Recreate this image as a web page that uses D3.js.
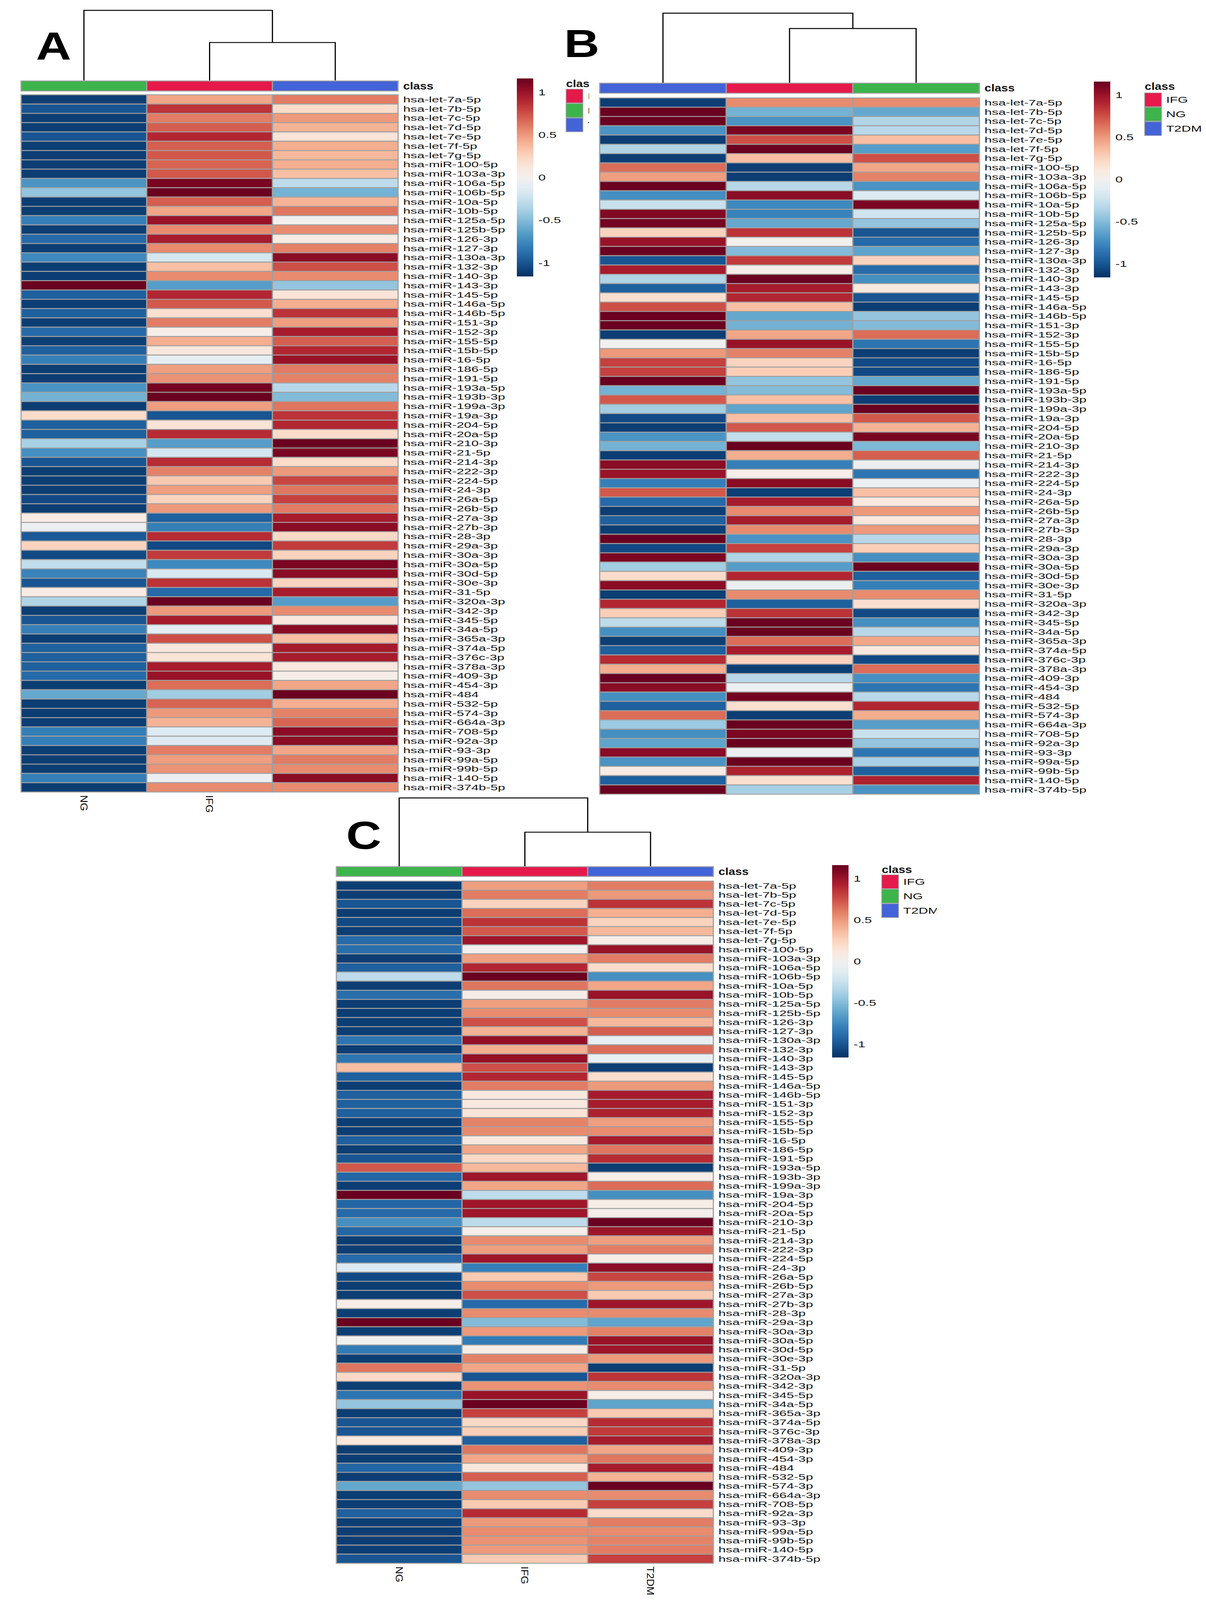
<!DOCTYPE html>
<html>
<head>
<meta charset="utf-8">
<script src="https://cdn.jsdelivr.net/npm/d3@7"></script>
<style>
  html, body { margin: 0; padding: 0; width: 100%; height: 100%; overflow: hidden; background: #fff; }
  #fig { display: block; width: 100vw; height: 100vh; }
  text { font-family: "Liberation Sans", Arial, sans-serif; fill: #111; }
</style>
</head>
<body>
<svg id="fig" viewBox="0 0 3087 5099" preserveAspectRatio="none"></svg>
<script>
// row labels (same order in all three heatmaps)
const rows = ['hsa-let-7a-5p','hsa-let-7b-5p','hsa-let-7c-5p','hsa-let-7d-5p','hsa-let-7e-5p','hsa-let-7f-5p','hsa-let-7g-5p',
  'hsa-miR-100-5p','hsa-miR-103a-3p','hsa-miR-106a-5p','hsa-miR-106b-5p','hsa-miR-10a-5p','hsa-miR-10b-5p','hsa-miR-125a-5p',
  'hsa-miR-125b-5p','hsa-miR-126-3p','hsa-miR-127-3p','hsa-miR-130a-3p','hsa-miR-132-3p','hsa-miR-140-3p','hsa-miR-143-3p',
  'hsa-miR-145-5p','hsa-miR-146a-5p','hsa-miR-146b-5p','hsa-miR-151-3p','hsa-miR-152-3p','hsa-miR-155-5p','hsa-miR-15b-5p',
  'hsa-miR-16-5p','hsa-miR-186-5p','hsa-miR-191-5p','hsa-miR-193a-5p','hsa-miR-193b-3p','hsa-miR-199a-3p','hsa-miR-19a-3p',
  'hsa-miR-204-5p','hsa-miR-20a-5p','hsa-miR-210-3p','hsa-miR-21-5p','hsa-miR-214-3p','hsa-miR-222-3p','hsa-miR-224-5p',
  'hsa-miR-24-3p','hsa-miR-26a-5p','hsa-miR-26b-5p','hsa-miR-27a-3p','hsa-miR-27b-3p','hsa-miR-28-3p','hsa-miR-29a-3p',
  'hsa-miR-30a-3p','hsa-miR-30a-5p','hsa-miR-30d-5p','hsa-miR-30e-3p','hsa-miR-31-5p','hsa-miR-320a-3p','hsa-miR-342-3p',
  'hsa-miR-345-5p','hsa-miR-34a-5p','hsa-miR-365a-3p','hsa-miR-374a-5p','hsa-miR-376c-3p','hsa-miR-378a-3p','hsa-miR-409-3p',
  'hsa-miR-454-3p','hsa-miR-484','hsa-miR-532-5p','hsa-miR-574-3p','hsa-miR-664a-3p','hsa-miR-708-5p','hsa-miR-92a-3p',
  'hsa-miR-93-3p','hsa-miR-99a-5p','hsa-miR-99b-5p','hsa-miR-140-5p','hsa-miR-374b-5p'];

// panel A
const colsA = ['NG', 'IFG', 'T2DM'];
const aNG = [-1.1,-1.0,-1.1,-1.1,-1.0,-1.1,-1.1,-1.1,-1.1,-0.7, -0.45,-1.1,-1.1,-0.8,-1.1,-0.9,-1.1,-0.75,-1.1,-1.1,
  1.15,-0.95,-1.1,-0.95,-1.1,-0.9,-1.1,-0.95,-0.8,-1.1, -1.1,-0.7,-0.55,-1.1,0.2,-0.95,-0.95,-0.38,-0.72,-1.0,
  -1.1,-1.1,-1.1,-1.05,-1.1,0.08,-0.05,-0.98,0.25,-1.05, -0.28,-0.78,-1.0,0.08,-0.35,-1.1,-1.0,-0.8,-1.1,-0.95,
  -0.95,-0.95,-0.9,-1.1,-0.6,-1.1,-1.1,-1.1,-0.8,-0.8, -1.1,-1.1,-1.1,-0.8,-1.1];
const aIFG = [0.45,0.85,0.6,0.7,0.9,0.7,0.72,0.68,0.72,1.1, 1.15,0.7,0.45,1.0,0.55,0.95,0.55,-0.2,0.35,0.55,
  -0.65,0.9,0.72,0.18,0.6,0.05,0.42,0.12,-0.1,0.48, 0.52,1.12,1.15,0.48,-1.0,0.15,0.88,-0.65,-0.2,0.88,
  0.58,0.3,0.48,0.25,0.5,-0.95,-0.8,0.88,-1.05,0.82, -0.75,-0.18,0.85,-0.9,1.15,0.5,0.95,-0.1,0.75,0.12,
  0.15,0.95,1.0,0.65,-0.4,0.68,0.5,0.4,-0.15,-0.15, 0.6,0.48,0.52,-0.05,0.55];
const aT2DM = [0.6,0.2,0.5,0.4,0.15,0.42,0.38,0.42,0.35,-0.3, -0.55,0.4,0.62,0.0,0.55,0.08,0.58,1.05,0.75,0.55,
  -0.45,0.15,0.42,0.85,0.48,0.95,0.7,0.9,1.0,0.6, 0.58,-0.32,-0.5,0.62,0.85,0.9,0.2,1.15,1.1,0.2,
  0.5,0.78,0.62,0.8,0.6,0.95,1.05,0.22,0.82,0.25, 1.1,1.05,0.25,0.95,-0.65,0.55,0.12,1.05,0.35,0.95,
  0.95,0.12,0.05,0.45,1.15,0.42,0.58,0.68,1.05,1.05, 0.45,0.6,0.55,1.05,0.55];

// panel B
const colsB = ['T2DM', 'IFG', 'NG'];
const bT2DM = [-1.1,1.15,1.15,-0.7,-1.1,-0.35,-1.1,0.65,0.48,1.15, -0.72,-0.25,1.08,1.12,0.25,1.0,1.15,-1.0,0.95,-0.35,
  -0.95,0.18,0.75,1.15,1.15,-1.1,-0.02,0.5,0.8,0.8, 1.15,-0.55,0.72,-0.4,-1.05,-1.1,-0.7,-0.55,-1.1,1.05,
  1.0,-0.8,0.72,-0.9,-1.1,-0.95,-1.1,1.15,-1.05,1.1, -0.4,0.2,1.05,-1.1,0.9,0.28,-0.3,-0.72,-1.1,-0.95,
  0.88,0.42,1.15,1.05,-0.72,-0.95,0.65,-0.42,-0.72,-0.62, 1.05,-0.7,0.08,-0.95,1.15];
const bIFG = [0.55,-0.55,-0.7,1.1,0.75,1.15,0.35,-1.1,-1.1,-0.32, 1.05,-0.75,-0.78,-0.6,0.85,0.02,-0.5,0.82,0.05,1.15,
  0.95,0.9,0.35,-0.6,-0.55,0.45,1.0,0.58,0.25,0.28, -0.45,-0.5,0.35,-0.62,0.35,0.72,-0.28,1.15,0.42,-0.8,
  0.05,1.05,-1.1,0.95,0.55,0.95,0.55,-0.7,0.8,-0.35, -0.65,0.9,-0.05,0.55,-0.95,0.85,1.15,1.15,0.65,0.95,
  0.25,-1.1,-0.32,-0.05,1.12,0.18,-1.1,1.15,1.1,1.15, -0.05,1.15,0.92,0.18,-0.38];
const bNG = [0.55,-0.6,-0.35,-0.32,0.35,-0.65,0.75,0.45,0.58,-0.7, -0.15,1.1,-0.22,-0.45,-1.0,-0.9,-0.62,0.25,-0.9,-0.72,
  0.1,-1.0,-1.1,-0.45,-0.5,0.65,-0.85,-1.1,-1.05,-1.05, -0.6,1.15,-1.1,1.15,0.72,0.4,1.1,-0.52,0.7,-0.05,
  -0.85,-0.05,0.35,0.1,0.5,0.12,0.5,-0.32,0.28,-0.72, 1.15,-0.95,-0.8,0.55,0.18,-1.05,-0.72,-0.32,0.45,0.1,
  -1.05,0.65,-0.72,-0.85,-0.32,0.9,0.42,-0.65,-0.25,-0.45, -0.85,-0.38,-0.95,0.92,-0.7];

// panel C
const colsC = ['NG', 'IFG', 'T2DM'];
const cNG = [-1.1,-1.1,-1.0,-1.1,-1.05,-1.1,-0.9,-0.88,-1.1,-0.95, -0.3,-1.1,-0.88,-1.1,-1.1,-1.1,-1.1,-0.85,-1.1,-0.85,
  0.35,-0.95,-1.1,-0.95,-0.95,-0.95,-1.1,-1.1,-0.95,-1.1, -1.0,0.72,-0.92,-1.1,1.15,-0.92,-0.9,-0.72,-0.92,-1.1,
  -1.1,-0.9,-0.15,-1.05,-1.1,-1.1,0.05,-1.1,1.15,-1.1, -0.02,-0.82,-1.1,0.62,0.22,-1.1,-0.85,-0.45,-1.1,-1.0,
  -1.0,0.12,-1.1,-1.1,-0.92,-1.1,-0.6,-1.1,-1.1,-0.95, -1.1,-1.1,-1.1,-1.1,-1.0];
const cIFG = [0.48,0.6,0.25,0.65,0.85,0.72,0.98,0.0,0.48,0.9, 1.15,0.62,0.05,0.48,0.55,0.75,0.4,1.02,0.42,1.02,
  0.75,0.9,0.6,0.1,0.1,0.15,0.58,0.55,0.1,0.45, 0.22,0.38,0.98,0.45,-0.3,0.98,0.98,-0.3,0.05,0.55,
  0.48,0.98,-0.8,0.3,0.55,0.75,-0.9,0.55,-0.5,0.5, -0.82,0.05,0.58,0.45,-1.0,0.52,1.0,1.15,0.8,0.22,
  0.28,-0.95,0.62,0.45,0.12,0.7,-0.45,0.55,0.3,0.88, 0.5,0.55,0.52,0.5,0.3];
const cT2DM = [0.6,0.5,0.85,0.42,0.25,0.38,0.05,1.0,0.6,0.2, -0.72,0.45,1.0,0.6,0.55,0.38,0.7,-0.08,0.65,-0.08,
  -1.1,0.18,0.5,0.95,0.95,0.92,0.48,0.55,0.95,0.62, 0.88,-1.1,0.05,0.65,-0.72,0.06,0.03,1.15,0.98,0.48,
  0.6,0.05,1.05,0.78,0.5,0.3,0.98,0.55,-0.62,0.58, 1.0,0.98,0.5,-1.1,0.85,0.55,0.05,-0.62,0.3,0.88,
  0.82,0.95,0.45,0.62,0.95,0.4,1.15,0.55,0.8,0.2, 0.6,0.55,0.58,0.6,0.8];

// legend entries, colour bar ticks, dendrogram join heights (inner, outer)
const classes = ['IFG', 'NG', 'T2DM'];
const classColors = ['#e6194b', '#3cb44b', '#4363d8'];
const ticks = [1, 0.5, 0, -0.5, -1];
const mergeA = [0.54, 1];
const mergeB = [0.78, 1];
const mergeC = [0.5, 1];

const svg = d3.select('#fig');
const classColor = d3.scaleOrdinal().domain(classes).range(classColors);
const color = d3.scaleSequential(t => d3.interpolateRdBu(1 - t)).domain([-1.16, 1.16]);
const cellStroke = '#a0a0a0';
const defs = svg.append('defs');

function drawPanel(p) {
  const g = svg.append('g');

  const x = d3.scaleBand().domain(p.cols).range([p.x0, p.x1]);
  const y = d3.scaleBand().domain(rows).range([p.top, p.bottom]);
  const cx = c => x(c) + x.bandwidth() / 2;

  // panel letter
  g.append('text')
    .attr('x', p.lx).attr('y', p.ly)
    .attr('font-size', 125).attr('font-weight', 'bold')
    .style('fill', '#000')
    .text(p.letter);

  // dendrogram: cols[1] + cols[2] join first, then cols[0]
  const yt = d3.scaleLinear().domain([0, 1]).range([p.treeBase, p.treeTop]);
  const c0 = cx(p.cols[0]), c1 = cx(p.cols[1]), c2 = cx(p.cols[2]);
  const mid = (c1 + c2) / 2;
  const tree = d3.path();
  tree.moveTo(c1, yt(0)); tree.lineTo(c1, yt(p.merge[0])); tree.lineTo(c2, yt(p.merge[0])); tree.lineTo(c2, yt(0));
  tree.moveTo(c0, yt(0)); tree.lineTo(c0, yt(p.merge[1])); tree.lineTo(mid, yt(p.merge[1])); tree.lineTo(mid, yt(p.merge[0]));
  g.append('path').attr('d', tree.toString())
    .attr('fill', 'none').attr('stroke', '#000').attr('stroke-width', 3);

  // class annotation bar
  g.selectAll('.cls').data(p.cols).enter().append('rect')
    .attr('x', d => x(d)).attr('width', x.bandwidth())
    .attr('y', p.barTop).attr('height', p.barBot - p.barTop)
    .attr('fill', d => classColor(d))
    .attr('stroke', cellStroke).attr('stroke-width', 3);
  g.append('text')
    .attr('x', p.labelX).attr('y', (p.barTop + p.barBot) / 2).attr('dy', '0.35em')
    .attr('font-size', 31).attr('font-weight', 'bold')
    .text('class');

  // heatmap cells
  const cells = [];
  p.cols.forEach(c => rows.forEach((r, i) => cells.push({ col: c, row: r, v: p.vals[c][i] })));
  g.selectAll('.cell').data(cells).enter().append('rect')
    .attr('x', d => x(d.col)).attr('width', x.bandwidth())
    .attr('y', d => y(d.row)).attr('height', y.bandwidth())
    .attr('fill', d => color(d.v))
    .attr('stroke', cellStroke).attr('stroke-width', 3);

  // row labels
  g.selectAll('.rl').data(rows).enter().append('text')
    .attr('transform', d => `translate(${p.labelX},${y(d) + y.bandwidth() / 2}) scale(1.3,1)`)
    .attr('dy', '0.35em').attr('font-size', 26)
    .text(d => d);

  // column labels
  g.selectAll('.cl').data(p.cols).enter().append('text')
    .attr('transform', d => `translate(${cx(d)},${p.bottom + 10}) rotate(90) scale(1.3,1)`)
    .attr('dy', '0.35em').attr('font-size', 26)
    .text(d => d);

  // colour bar
  const lg = g.append('g');
  if (p.clipX) {
    const id = 'clip' + p.letter;
    defs.append('clipPath').attr('id', id).append('rect')
      .attr('x', 0).attr('y', 0).attr('width', p.clipX).attr('height', 5099);
    lg.attr('clip-path', `url(#${id})`);
  }
  const gid = 'grad' + p.letter;
  const grad = defs.append('linearGradient')
    .attr('id', gid).attr('x1', 0).attr('x2', 0).attr('y1', 1).attr('y2', 0);
  d3.range(0, 1.0001, 0.05).forEach(t => {
    grad.append('stop').attr('offset', t).attr('stop-color', d3.interpolateRdBu(1 - t));
  });
  const yc = d3.scaleLinear().domain([-1.16, 1.16]).range([p.cb.bottom, p.cb.top]);
  lg.append('rect')
    .attr('x', p.cb.x).attr('y', p.cb.top)
    .attr('width', 42).attr('height', p.cb.bottom - p.cb.top)
    .attr('fill', `url(#${gid})`);
  lg.selectAll('.tk').data(ticks).enter().append('text')
    .attr('transform', d => `translate(${p.cb.x + 55},${yc(d)}) scale(1.2,1)`)
    .attr('dy', '0.35em').attr('font-size', 28)
    .text(d => d);

  // class legend
  lg.append('text')
    .attr('x', p.lg.x).attr('y', p.lg.titleY)
    .attr('font-size', 31).attr('font-weight', 'bold')
    .text('class');
  lg.selectAll('.sw').data(classes).enter().append('rect')
    .attr('x', p.lg.x).attr('y', (d, i) => p.lg.top + i * 46)
    .attr('width', 43).attr('height', 44)
    .attr('fill', d => classColor(d))
    .attr('stroke', cellStroke).attr('stroke-width', 2);
  lg.selectAll('.sl').data(classes).enter().append('text')
    .attr('transform', (d, i) => `translate(${p.lg.x + 55},${p.lg.top + i * 46 + 22}) scale(1.2,1)`)
    .attr('dy', '0.35em').attr('font-size', 28)
    .text(d => d);
}

drawPanel({
  letter: 'A', lx: 92, ly: 190, cols: colsA, vals: { NG: aNG, IFG: aIFG, T2DM: aT2DM },
  x0: 54, x1: 1019, top: 302, bottom: 2524, barTop: 258, barBot: 290,
  treeTop: 33, treeBase: 256, merge: mergeA, labelX: 1032,
  cb: { x: 1323, top: 250, bottom: 881 }, lg: { x: 1449, titleY: 277, top: 284 }
});

// panel B sits on top of A's legend
svg.append('rect').attr('x', 1508).attr('y', 0).attr('width', 1579).attr('height', 2533).attr('fill', '#fff');
drawPanel({
  letter: 'B', lx: 1444, ly: 182, cols: colsB, vals: { T2DM: bT2DM, IFG: bIFG, NG: bNG },
  x0: 1535, x1: 2507, top: 312, bottom: 2531, barTop: 265, barBot: 297,
  treeTop: 42, treeBase: 264, merge: mergeB, labelX: 2520,
  cb: { x: 2800, top: 260, bottom: 884 }, lg: { x: 2930, titleY: 286, top: 296 }
});

// panel C sits on top of the lower edge of A and B
svg.append('rect').attr('x', 790).attr('y', 2533).attr('width', 2297).attr('height', 2566).attr('fill', '#fff');
drawPanel({
  letter: 'C', lx: 886, ly: 2705, cols: colsC, vals: { NG: cNG, IFG: cIFG, T2DM: cT2DM },
  x0: 861, x1: 1826, top: 2808, bottom: 4982, barTop: 2762, barBot: 2793,
  treeTop: 2543, treeBase: 2761, merge: mergeC, labelX: 1839,
  cb: { x: 2130, top: 2757, bottom: 3370 }, lg: { x: 2257, titleY: 2782, top: 2788 },
  clipX: 2398
});
</script>
</body>
</html>
